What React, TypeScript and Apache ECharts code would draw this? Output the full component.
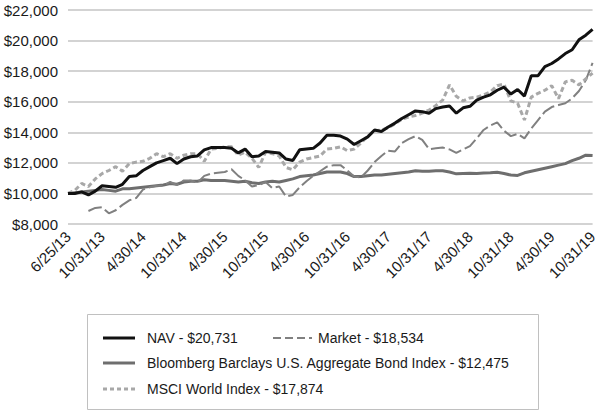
import React, { useEffect, useRef } from "react";
import * as echarts from "echarts";

const categories = [
  "6/25/13", "6/30/13", "7/31/13", "8/31/13", "9/30/13", "10/31/13", "11/30/13", "12/31/13",
  "1/31/14", "2/28/14", "3/31/14", "4/30/14", "5/31/14", "6/30/14", "7/31/14", "8/31/14", "9/30/14", "10/31/14", "11/30/14", "12/31/14",
  "1/31/15", "2/28/15", "3/31/15", "4/30/15", "5/31/15", "6/30/15", "7/31/15", "8/31/15", "9/30/15", "10/31/15", "11/30/15", "12/31/15",
  "1/31/16", "2/29/16", "3/31/16", "4/30/16", "5/31/16", "6/30/16", "7/31/16", "8/31/16", "9/30/16", "10/31/16", "11/30/16", "12/31/16",
  "1/31/17", "2/28/17", "3/31/17", "4/30/17", "5/31/17", "6/30/17", "7/31/17", "8/31/17", "9/30/17", "10/31/17", "11/30/17", "12/31/17",
  "1/31/18", "2/28/18", "3/31/18", "4/30/18", "5/31/18", "6/30/18", "7/31/18", "8/31/18", "9/30/18", "10/31/18", "11/30/18", "12/31/18",
  "1/31/19", "2/28/19", "3/31/19", "4/30/19", "5/31/19", "6/30/19", "7/31/19", "8/31/19", "9/30/19", "10/31/19",
];

const navValues = [
  10000, 10000, 10100, 9900, 10150, 10500, 10450, 10400, 10600, 11100,
  11150, 11500, 11750, 12000, 12150, 12300, 11950, 12250, 12400, 12450,
  12850, 13000, 13000, 13000, 12950, 12650, 12900, 12400, 12450, 12750,
  12700, 12650, 12250, 12150, 12850, 12900, 12950, 13300, 13800, 13800,
  13750, 13550, 13200, 13450, 13700, 14150, 14050, 14350, 14600, 14900,
  15150, 15400, 15350, 15250, 15550, 15650, 15720, 15250, 15600, 15700,
  16100, 16300, 16450, 16750, 16950, 16500, 16800, 16370, 17700, 17700,
  18300, 18500, 18800, 19150, 19400, 20050, 20350, 20731,
];

const marketValues = [
  null, null, null, 8850, 9050, 9100, 8700, 8900, 9250, 9550,
  9700, 10250, 10400, 10500, 10500, 10750, 10550, 10850, 10850, 10700,
  11150, 11300, 11350, 11400, 11580, 11150, 10850, 10450, 10550, 10750,
  10350, 10450, 9800, 9900, 10400, 10800, 11150, 11450, 11750, 11850,
  11850, 11500, 11100, 11050, 11500, 12050, 12450, 12800, 12750, 13300,
  13550, 13750, 13500, 12900, 12950, 13000, 12880, 12650, 12880, 13100,
  13600, 14150, 14450, 14650, 14100, 13750, 13900, 13600, 14250, 14800,
  15350, 15650, 15780, 15900, 16220, 16700, 17400, 18534,
];

const bondValues = [
  10000, 10050, 10100, 10150, 10200, 10250, 10200, 10150, 10300, 10300,
  10350, 10400, 10450, 10500, 10550, 10650, 10600, 10750, 10800, 10800,
  10900, 10850, 10850, 10850, 10800, 10750, 10800, 10700, 10650, 10750,
  10800, 10750, 10850, 10950, 11100, 11150, 11200, 11300, 11400, 11400,
  11400, 11300, 11100, 11100, 11150, 11200, 11200, 11250, 11300, 11350,
  11400, 11480, 11450, 11450, 11480, 11480, 11400, 11280, 11300, 11320,
  11300, 11330, 11350, 11380, 11300, 11200, 11180, 11350, 11450, 11550,
  11650, 11750, 11850, 11950, 12150, 12300, 12500, 12475,
];

const msciValues = [
  10000, 10200, 10650, 10450, 10950, 11300, 11500, 11750, 11450, 11950,
  12050, 12100, 12300, 12600, 12400, 12600, 12300, 12500, 12600, 12600,
  12100, 12900, 12950, 13050, 13050, 12500, 12700, 12300, 11700, 12700,
  12600, 12450, 11700, 11550, 12050, 12250, 12350, 12450, 12900, 12950,
  13050, 12800, 12900, 13300, 13750, 14100, 14150, 14300, 14550, 14850,
  15000, 15100, 15250, 15450, 15750, 16100, 17100, 16350, 16050, 16250,
  16300, 16450, 16650, 17050, 17150, 16050, 15900, 14800, 16300, 16550,
  16750, 17050, 16200, 17300, 17400, 17100, 17500, 17874,
];

const legendLabels = [
  "NAV - $20,731",
  "Market - $18,534",
  "Bloomberg Barclays U.S. Aggregate Bond Index - $12,475",
  "MSCI World Index - $17,874",
];

const FONT = "'Liberation Sans', Arial, sans-serif";
const NAV_COLOR = "#111111";
const MARKET_COLOR = "#808080";
const BOND_COLOR = "#6e6e6e";
const MSCI_COLOR = "#a8a8a8";

export default function App() {
  const ref = useRef<HTMLDivElement>(null);
  useEffect(() => {
    const chart = echarts.init(ref.current!, null, { renderer: "svg" });
    const textStyle = (t: string, x: number, y: number) => ({
      type: "text",
      x,
      y,
      style: {
        text: t,
        fontSize: 14,
        fontFamily: FONT,
        fill: "#1a1a1a",
        verticalAlign: "middle",
        align: "left",
      },
    });
    chart.setOption({
      animation: false,
      backgroundColor: "#ffffff",
      grid: { left: 68, right: 7, top: 10, bottom: 188, containLabel: false },
      xAxis: {
        type: "category",
        data: categories,
        boundaryGap: false,
        axisLine: { show: false },
        axisTick: { show: false },
        splitLine: { show: false },
        axisLabel: {
          rotate: 45,
          margin: 10,
          fontSize: 15,
          fontFamily: FONT,
          color: "#1a1a1a",
          interval: (idx: number) => idx === 0 || (idx >= 5 && (idx - 5) % 6 === 0),
        },
      },
      yAxis: {
        type: "value",
        min: 8000,
        max: 22000,
        interval: 2000,
        axisLine: { show: false },
        axisTick: { show: false },
        splitLine: { lineStyle: { color: "#c4c4c4", width: 1.5 } },
        axisLabel: {
          margin: 10,
          fontSize: 15,
          fontFamily: FONT,
          color: "#1a1a1a",
          formatter: (v: number) => "$" + v.toLocaleString("en-US"),
        },
      },
      series: [
        {
          name: legendLabels[2],
          type: "line",
          data: bondValues,
          symbol: "none",
          lineStyle: { color: BOND_COLOR, width: 3 },
          z: 2,
        },
        {
          name: legendLabels[1],
          type: "line",
          data: marketValues,
          symbol: "none",
          lineStyle: { color: MARKET_COLOR, width: 2, type: [14, 4] },
          z: 3,
        },
        {
          name: legendLabels[3],
          type: "line",
          data: msciValues,
          symbol: "none",
          lineStyle: { color: MSCI_COLOR, width: 3, type: [5, 3] },
          z: 4,
        },
        {
          name: legendLabels[0],
          type: "line",
          data: navValues,
          symbol: "none",
          lineStyle: { color: NAV_COLOR, width: 3 },
          z: 5,
        },
      ],
      graphic: [
        {
          type: "rect",
          shape: { x: 87.5, y: 314.5, width: 451, height: 95 },
          style: { fill: "#ffffff", stroke: "#c0c0c0", lineWidth: 1 },
        },
        {
          type: "line",
          shape: { x1: 103, y1: 338, x2: 135, y2: 338 },
          style: { stroke: NAV_COLOR, lineWidth: 3 },
        },
        textStyle(legendLabels[0], 147, 338),
        {
          type: "line",
          shape: { x1: 273, y1: 338, x2: 312, y2: 338 },
          style: { stroke: MARKET_COLOR, lineWidth: 2, lineDash: [8, 4] },
        },
        textStyle(legendLabels[1], 318, 338),
        {
          type: "line",
          shape: { x1: 103, y1: 363, x2: 135, y2: 363 },
          style: { stroke: BOND_COLOR, lineWidth: 3 },
        },
        textStyle(legendLabels[2], 147, 363),
        {
          type: "line",
          shape: { x1: 103, y1: 389, x2: 135, y2: 389 },
          style: { stroke: MSCI_COLOR, lineWidth: 3, lineDash: [4, 3] },
        },
        textStyle(legendLabels[3], 147, 389),
      ],
    });
    return () => chart.dispose();
  }, []);
  return (
    <div
      ref={ref}
      style={{ position: "absolute", left: 0, top: 0, width: 600, height: 412 }}
    />
  );
}
